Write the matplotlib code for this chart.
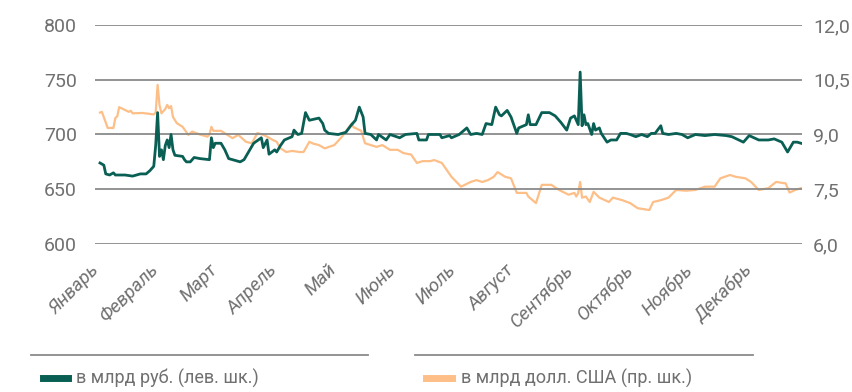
import matplotlib
matplotlib.use('Agg')
import numpy as np
import matplotlib.pyplot as plt
from matplotlib.lines import Line2D
from matplotlib.ticker import FuncFormatter

# day of year and daily values, bn RUB (left axis)
rub_days = [0, 2, 3, 5, 7, 8, 13, 17, 21, 24, 26, 28, 29, 30, 31, 32, 33, 34, 35, 36,
            37, 38, 39, 43, 44, 45, 47, 49, 52, 57, 58, 59, 60, 63, 65, 67, 73, 75, 78, 80,
            84, 85, 87, 88, 91, 92, 94, 96, 100, 101, 103, 105, 107, 109, 114, 116, 117, 119,
            124, 128, 131, 133, 135, 137, 138, 141, 144, 145, 149, 151, 156, 159, 165, 166,
            170, 171, 177, 178, 182, 183, 187, 191, 193, 196, 199, 201, 204, 206, 208, 209,
            212, 214, 217, 218, 222, 223, 224, 227, 230, 234, 237, 240, 243, 245, 247, 249,
            250, 251, 252, 253, 254, 256, 257, 258, 260, 261, 264, 266, 269, 271, 274, 276,
            279, 282, 285, 287, 289, 292, 293, 296, 300, 303, 306, 310, 315, 320, 326, 329,
            335, 338, 343, 348, 351, 355, 358, 361, 363, 365]
rub_vals = [674, 672, 664, 663, 665, 663, 663, 662, 664, 664, 667, 671, 690, 720, 680, 686,
            677, 690, 695, 688, 700, 686, 681, 680, 677, 675, 675, 679, 678, 677, 697, 688,
            692, 692, 686, 678, 675, 677, 686, 692, 697, 688, 695, 682, 686, 684, 690, 695,
            698, 704, 700, 701, 720, 713, 715, 710, 704, 701, 700, 702, 709, 713, 725, 716,
            701, 700, 695, 700, 695, 700, 697, 700, 701, 695, 695, 700, 700, 697, 699, 697,
            700, 706, 700, 701, 700, 710, 709, 725, 718, 717, 722, 716, 701, 706, 709, 718,
            709, 709, 720, 720, 717, 711, 704, 715, 717, 709, 757, 708, 718, 709, 710, 700,
            710, 704, 706, 701, 693, 695, 695, 701, 701, 700, 698, 700, 698, 701, 701, 708,
            701, 700, 701, 700, 697, 700, 699, 700, 699, 698, 693, 699, 695, 695, 696, 693,
            684, 693, 693, 692]

# bn USD (right axis)
usd_days = [0, 1, 4, 7, 8, 9, 10, 15, 16, 17, 22, 28, 29, 30, 31, 32, 34, 35, 36, 37, 38,
            40, 43, 46, 48, 52, 56, 57, 58, 59, 63, 66, 69, 72, 76, 79, 82, 85, 87, 90, 92,
            93, 94, 97, 100, 104, 106, 109, 111, 114, 117, 122, 126, 128, 131, 132, 136, 138,
            141, 144, 147, 151, 155, 158, 162, 165, 168, 172, 174, 178, 183, 188, 193, 196,
            199, 202, 205, 207, 211, 214, 217, 222, 223, 227, 230, 235, 239, 244, 247, 248,
            249, 250, 251, 253, 255, 257, 260, 265, 267, 272, 276, 280, 286, 288, 292, 296,
            300, 305, 310, 315, 320, 323, 328, 331, 336, 339, 343, 348, 352, 357, 359, 362, 365]
usd_vals = [9.6, 9.62, 9.18, 9.18, 9.45, 9.5, 9.75, 9.62, 9.65, 9.58, 9.59, 9.55, 9.6, 10.36,
            9.8, 9.58, 9.7, 9.81, 9.72, 9.78, 9.48, 9.31, 9.21, 8.99, 9.08, 9.0, 8.94, 9.0,
            9.21, 9.1, 9.1, 9.0, 8.9, 8.99, 8.8, 8.76, 9.04, 8.99, 8.94, 8.85, 8.8, 8.71,
            8.62, 8.52, 8.55, 8.52, 8.52, 8.8, 8.75, 8.71, 8.62, 8.71, 8.94, 9.08, 9.3, 9.2,
            9.1, 8.76, 8.71, 8.66, 8.71, 8.58, 8.58, 8.49, 8.45, 8.22, 8.27, 8.27, 8.3, 8.22,
            7.84, 7.57, 7.7, 7.75, 7.7, 7.75, 7.84, 7.97, 7.84, 7.8, 7.4, 7.4, 7.3, 7.12,
            7.62, 7.62, 7.48, 7.35, 7.4, 7.3, 7.4, 7.7, 7.27, 7.3, 7.15, 7.43, 7.27, 7.15,
            7.27, 7.2, 7.12, 6.98, 6.93, 7.15, 7.2, 7.27, 7.48, 7.46, 7.48, 7.57, 7.57, 7.8,
            7.89, 7.84, 7.8, 7.7, 7.48, 7.53, 7.7, 7.66, 7.41, 7.48, 7.53]

months = ['Январь', 'Февраль', 'Март', 'Апрель', 'Май', 'Июнь', 'Июль', 'Август',
          'Сентябрь', 'Октябрь', 'Ноябрь', 'Декабрь']
label_rub = 'в млрд руб. (лев. шк.)'
label_usd = 'в млрд долл. США (пр. шк.)'

green = '#0a5f54'
orange = '#fdbf87'
grey = '#8a8a8a'
text_grey = '#707070'

plt.rcParams['font.family'] = ['Roboto', 'DejaVu Sans']

fig = plt.figure(figsize=(8.52, 3.92), dpi=100)
ax = fig.add_axes([0.1115, 0.3776, 0.8298, 0.5586])
ax2 = ax.twinx()

ax.set_ylim(600, 800)
ax.set_yticks(np.arange(600, 801, 50))
ax2.set_ylim(6.0, 12.0)
ax2.set_yticks(np.arange(6.0, 12.01, 1.5))
ax2.yaxis.set_major_formatter(FuncFormatter(lambda v, p: ('%.1f' % v).replace('.', ',')))
ax.set_xlim(-2.6, 365.5)

for a in (ax, ax2):
    for s in a.spines.values():
        s.set_visible(False)
    a.tick_params(length=0, labelsize=14, labelcolor=text_grey)
ax.tick_params(axis='y', pad=13)
ax2.tick_params(axis='y', pad=8)

# orange series sits under the grid and the green line
ax2.plot(usd_days, usd_vals, color=orange, lw=1.6, solid_joinstyle='round')
ax2.set_zorder(ax.get_zorder() - 1)
ax.patch.set_visible(False)
ax.plot(rub_days, rub_vals, color=green, lw=2.0, solid_joinstyle='round')
ax.grid(axis='y', color=grey, lw=1.3)
ax.set_axisbelow(True)

ax.set_xticks(1.5 + np.arange(12) * 30.9)
ax.set_xticklabels(months, rotation=45, ha='right', fontsize=13.5, style='italic')
ax.tick_params(axis='x', pad=12)

# legend with separator rules
fig.add_artist(Line2D([31 / 852, 368 / 852], [1 - 355 / 392] * 2, color=grey, lw=1.3))
fig.add_artist(Line2D([415 / 852, 753 / 852], [1 - 355 / 392] * 2, color=grey, lw=1.3))
fig.add_artist(Line2D([43 / 852, 68 / 852], [1 - 378 / 392] * 2, color=green, lw=5))
fig.add_artist(Line2D([426 / 852, 452 / 852], [1 - 378 / 392] * 2, color=orange, lw=5))
fig.text(76 / 852, 1 - 378 / 392, label_rub, fontsize=13, color=text_grey, va='center')
fig.text(461 / 852, 1 - 378 / 392, label_usd, fontsize=13, color=text_grey, va='center')

plt.savefig('out.png', dpi=100)
